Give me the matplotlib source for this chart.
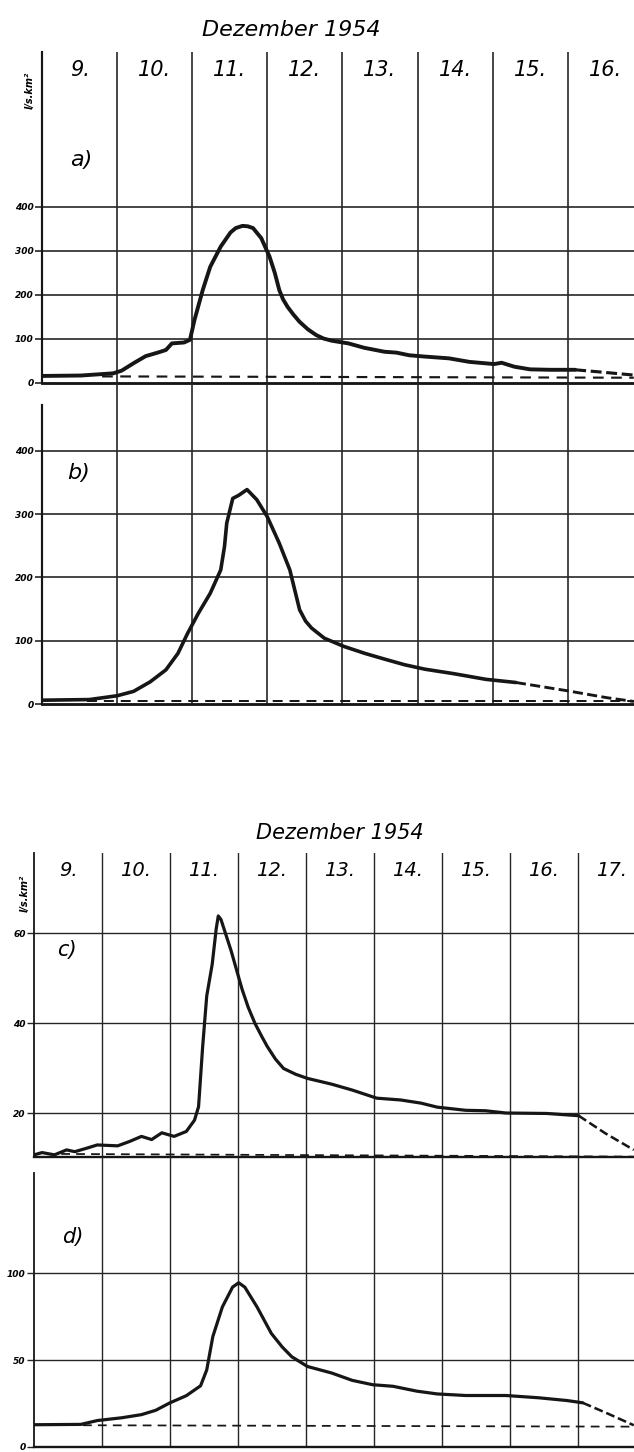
import matplotlib.pyplot as plt
from matplotlib.transforms import blended_transform_factory

W, H = 634, 1452

# runoff l/s.km2, Dezember 1954
top_days = ['9.', '10.', '11.', '12.', '13.', '14.', '15.', '16.']
bot_days = ['9.', '10.', '11.', '12.', '13.', '14.', '15.', '16.', '17.']

a_day = [9.0, 9.52, 9.95, 10.06, 10.22, 10.38, 10.54, 10.65, 10.73, 10.89, 10.97, 11.03,
         11.14, 11.24, 11.38, 11.51, 11.58, 11.67, 11.74, 11.81, 11.92, 12.03, 12.1, 12.16,
         12.21, 12.27, 12.35, 12.43, 12.54, 12.65, 12.75, 12.86, 13.08, 13.29, 13.56,
         13.72, 13.89, 14.1, 14.42, 14.69, 15.02, 15.12, 15.29, 15.5, 15.77, 16.1]
a_q = [16, 17, 22, 28, 45, 61, 69, 75, 90, 92, 98, 143, 211, 264, 310, 342, 352, 357,
       356, 352, 329, 287, 250, 211, 190, 173, 155, 139, 122, 109, 101, 96, 90, 80, 71,
       69, 63, 60, 56, 48, 43, 46, 37, 31, 30, 30]
a_dash_day = [16.1, 16.5, 16.88]
a_dash_q = [30, 24, 18]
a_base_day = [9.8, 16.88]
a_base_q = [15, 12]

b_day = [9.0, 9.63, 10.0, 10.22, 10.44, 10.65, 10.81, 10.94, 11.08, 11.24, 11.38, 11.43,
         11.46, 11.54, 11.62, 11.73, 11.86, 12.0, 12.16, 12.3, 12.43, 12.51, 12.59, 12.76,
         13.02, 13.3, 13.56, 13.83, 14.1, 14.48, 14.91, 15.31]
b_q = [6, 7, 13, 20, 35, 54, 80, 112, 143, 175, 212, 249, 286, 325, 330, 339, 323, 296,
       254, 212, 149, 131, 120, 104, 91, 80, 71, 62, 55, 48, 39, 34]
b_dash_day = [15.31, 15.99, 16.52, 16.88]
b_dash_q = [34, 21, 10, 4]
b_base_day = [9.6, 16.88]
b_base_q = [5, 5]

c_day = [9.0, 9.12, 9.3, 9.48, 9.6, 9.78, 9.93, 10.23, 10.41, 10.58, 10.73, 10.88, 11.06,
         11.24, 11.36, 11.42, 11.48, 11.54, 11.62, 11.68, 11.71, 11.75, 11.9, 12.06,
         12.15, 12.25, 12.35, 12.43, 12.55, 12.67, 12.85, 13.02, 13.38, 13.68, 14.04,
         14.39, 14.69, 14.93, 15.35, 15.64, 15.94, 16.54, 17.01]
c_q = [10.7, 11.2, 10.7, 11.8, 11.4, 12.2, 12.9, 12.7, 13.7, 14.8, 14.1, 15.6, 14.8,
       15.9, 18.4, 21.4, 34.7, 46, 53, 61, 63.8, 63, 56, 47.5, 43.5, 39.9, 37, 34.8,
       32, 29.9, 28.6, 27.7, 26.4, 25.1, 23.3, 22.9, 22.2, 21.3, 20.6, 20.5, 20.0, 19.9,
       19.4]
c_dash_day = [17.01, 17.4, 17.82]
c_dash_q = [19.4, 15.5, 11.8]
c_base_day = [9.4, 17.82]
c_base_q = [10.9, 10.3]

d_day = [9.0, 9.69, 9.93, 10.29, 10.58, 10.79, 11.0, 11.24, 11.45, 11.54, 11.63, 11.77,
         11.92, 12.01, 12.1, 12.28, 12.49, 12.65, 12.79, 13.02, 13.38, 13.68, 13.98, 14.28,
         14.63, 14.93, 15.35, 15.94, 16.42, 16.84, 17.07]
d_q = [12.8, 13.0, 15.2, 16.8, 18.6, 21.1, 25.4, 29.5, 35.2, 44.3, 63.5, 80.5, 91.9,
       94.4, 91.9, 80.5, 65.3, 57.5, 51.9, 46.3, 42.5, 38.3, 35.8, 34.9, 32.1, 30.5, 29.6,
       29.6, 28.3, 26.7, 25.4]
d_dash_day = [17.07, 17.45, 17.82]
d_dash_q = [25.4, 19, 12.5]
d_base_day = [9.72, 17.82]
d_base_q = [12.5, 11.7]

INK = '#161616'
GRID = '#262626'
HAND = dict(family='DejaVu Sans', style='italic')


def box(fig, left, top, right, bottom):
    return fig.add_axes((left / W, 1 - bottom / H, (right - left) / W, (bottom - top) / H))


def fy(y):
    return 1 - y / H


def panel(ax, xlim, ylim, yticks, lw, spine_top=None):
    ax.set_xlim(*xlim)
    ax.set_ylim(*ylim)
    ax.patch.set_alpha(0)
    for d in range(int(xlim[0]) + 1, int(xlim[1]) + 1):
        ax.axvline(d, color=GRID, lw=lw, zorder=1)
    for v in yticks:
        if v > ylim[0]:
            ax.axhline(v, color=GRID, lw=lw, zorder=1)
    ax.set_xticks([])
    ax.set_yticks(yticks)
    ax.set_yticklabels([str(v) for v in yticks], fontsize=6.5, fontweight='bold', **HAND)
    ax.tick_params(axis='y', length=5, width=lw, pad=1, color=GRID)
    for s in ['top', 'right']:
        ax.spines[s].set_visible(False)
    ax.spines['left'].set_linewidth(lw * 1.3)
    ax.spines['left'].set_color(INK)
    ax.spines['bottom'].set_linewidth(lw * 1.7)
    ax.spines['bottom'].set_color(INK)
    if spine_top is not None:
        ax.spines['left'].set_bounds(ylim[0], spine_top)


def curves(ax, day, q, dday, dq, bday, bq, lw):
    ax.plot(bday, bq, color=INK, lw=lw * 0.55, ls=(0, (5, 3.5)), zorder=2)
    ax.plot(day, q, color=INK, lw=lw, solid_capstyle='round', solid_joinstyle='round', zorder=3)
    ax.plot(dday, dq, color=INK, lw=lw * 0.8, ls=(0, (3.5, 1.5)), zorder=3)


fig = plt.figure(figsize=(W / 100, H / 100), dpi=100)
fig.set_facecolor('white')

# ---- upper sheet: a), b)
top_x = (9.0, 9.0 + (W - 42) / 75.1)
ax_a = box(fig, 42, 52, W, 383)
panel(ax_a, top_x, (0, 752), [0, 100, 200, 300, 400], 1.2)
curves(ax_a, a_day, a_q, a_dash_day, a_dash_q, a_base_day, a_base_q, 2.8)

ax_b = box(fig, 42, 383, W, 704)
panel(ax_b, top_x, (0, 507.5), [0, 100, 200, 300, 400], 1.2, spine_top=472.7)
curves(ax_b, b_day, b_q, b_dash_day, b_dash_q, b_base_day, b_base_q, 2.6)

fig.text(291 / W, fy(30), 'Dezember 1954', fontsize=16, ha='center', va='center', **HAND)
tr = blended_transform_factory(ax_a.transData, fig.transFigure)
for i, lab in enumerate(top_days):
    ax_a.text(9.5 + i, fy(70), lab, transform=tr, fontsize=15, ha='center', va='center', **HAND)
fig.text(30 / W, fy(90), 'l/s.km²', rotation=90, fontsize=7, fontweight='bold',
         ha='center', va='center', **HAND)
fig.text(81 / W, fy(160), 'a)', fontsize=16, ha='center', va='center', **HAND)
fig.text(79 / W, fy(473), 'b)', fontsize=16, ha='center', va='center', **HAND)

# ---- lower sheet: c), d)
bot_x = (9.0, 9.0 + (W - 34) / 68.0)
ax_c = box(fig, 34, 853, W, 1157)
panel(ax_c, bot_x, (10.22, 77.8), [20, 40, 60], 1.0)
curves(ax_c, c_day, c_q, c_dash_day, c_dash_q, c_base_day, c_base_q, 2.3)

ax_d = box(fig, 34, 1157, W, 1447)
panel(ax_d, bot_x, (0, 166.7), [0, 50, 100], 1.0, spine_top=157.5)
curves(ax_d, d_day, d_q, d_dash_day, d_dash_q, d_base_day, d_base_q, 2.3)

fig.text(340 / W, fy(833), 'Dezember 1954', fontsize=15, ha='center', va='center', **HAND)
tr = blended_transform_factory(ax_c.transData, fig.transFigure)
for i, lab in enumerate(bot_days):
    ax_c.text(9.5 + i, fy(870), lab, transform=tr, fontsize=14, ha='center', va='center', **HAND)
fig.text(25 / W, fy(893), 'l/s.km²', rotation=90, fontsize=7, fontweight='bold',
         ha='center', va='center', **HAND)
fig.text(67 / W, fy(950), 'c)', fontsize=15, ha='center', va='center', **HAND)
fig.text(73 / W, fy(1237), 'd)', fontsize=15, ha='center', va='center', **HAND)

fig.savefig('out.png', dpi=100)
